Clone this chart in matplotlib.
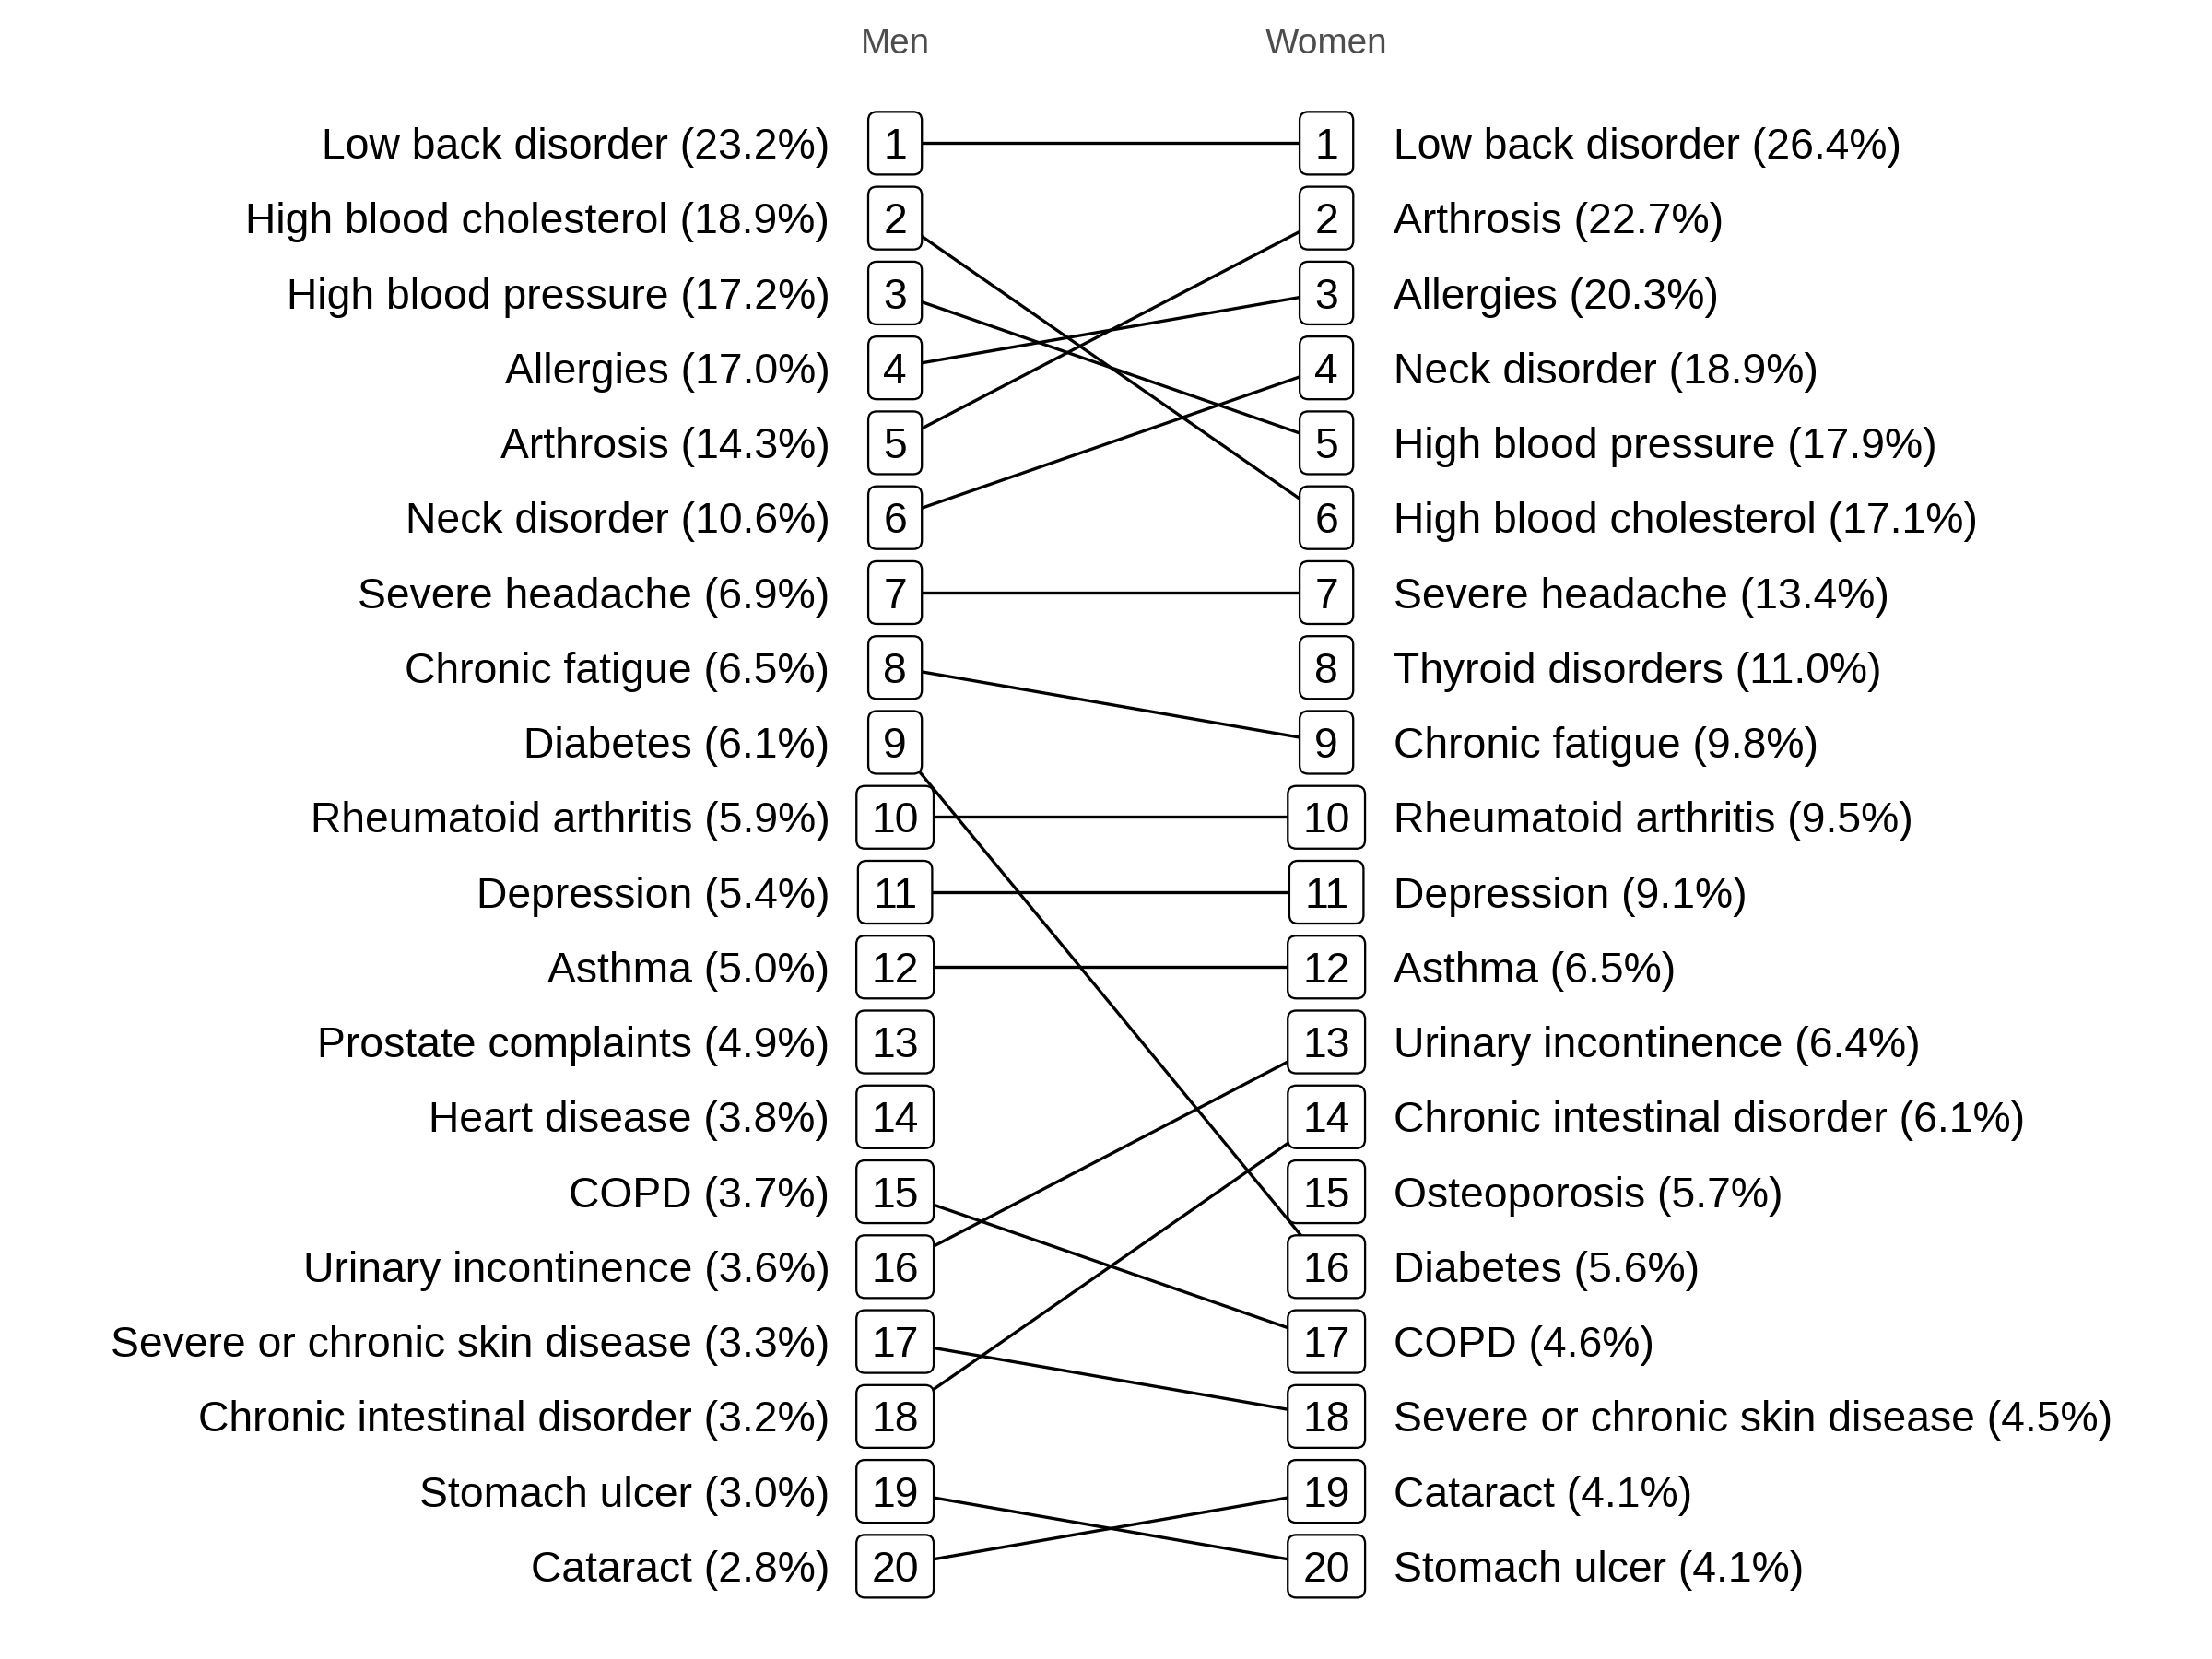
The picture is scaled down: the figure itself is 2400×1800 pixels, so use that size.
import matplotlib.pyplot as plt
from matplotlib.patches import BoxStyle

plt.rcParams['font.family'] = ['Liberation Sans', 'DejaVu Sans']

# Ranked conditions (rank = position in list)
men_names = ['Low back disorder', 'High blood cholesterol', 'High blood pressure',
             'Allergies', 'Arthrosis', 'Neck disorder', 'Severe headache',
             'Chronic fatigue', 'Diabetes', 'Rheumatoid arthritis', 'Depression',
             'Asthma', 'Prostate complaints', 'Heart disease', 'COPD',
             'Urinary incontinence', 'Severe or chronic skin disease',
             'Chronic intestinal disorder', 'Stomach ulcer', 'Cataract']
men_pct = [23.2, 18.9, 17.2, 17.0, 14.3, 10.6, 6.9, 6.5, 6.1, 5.9,
           5.4, 5.0, 4.9, 3.8, 3.7, 3.6, 3.3, 3.2, 3.0, 2.8]

women_names = ['Low back disorder', 'Arthrosis', 'Allergies', 'Neck disorder',
               'High blood pressure', 'High blood cholesterol', 'Severe headache',
               'Thyroid disorders', 'Chronic fatigue', 'Rheumatoid arthritis',
               'Depression', 'Asthma', 'Urinary incontinence',
               'Chronic intestinal disorder', 'Osteoporosis', 'Diabetes', 'COPD',
               'Severe or chronic skin disease', 'Cataract', 'Stomach ulcer']
women_pct = [26.4, 22.7, 20.3, 18.9, 17.9, 17.1, 13.4, 11.0, 9.8, 9.5,
             9.1, 6.5, 6.4, 6.1, 5.7, 5.6, 4.6, 4.5, 4.1, 4.1]

men_rank = {n: i + 1 for i, n in enumerate(men_names)}
women_rank = {n: i + 1 for i, n in enumerate(women_names)}

_round = BoxStyle.Round(pad=0.26, rounding_size=0.2)


def label_box(x0, y0, width, height, mutation_size):
    # a bit wider than tall, and nudged up so digits sit centred
    extra = 0.09 * mutation_size
    return _round(x0 - extra, y0 + 0.1 * mutation_size, width + 2 * extra, height,
                  mutation_size)


fig = plt.figure(figsize=(8, 6), dpi=300)
ax = fig.add_axes([0, 0, 1, 1])
ax.set_xlim(-1.075, 4.053)
ax.set_ylim(21.243, -0.9075)
ax.axis('off')

# connecting lines for conditions in both lists
for name, r in men_rank.items():
    if name in women_rank:
        ax.plot([1, 2], [r, women_rank[name]], color='black', lw=0.8, zorder=1,
                solid_capstyle='butt')

box = dict(boxstyle=label_box, fc='white', ec='black', lw=0.55)
fs = 11.1

for i, (n, p) in enumerate(zip(men_names, men_pct)):
    r = i + 1
    ax.text(1, r, str(r), ha='center', va='center_baseline', fontsize=fs, bbox=box, zorder=3)
    ax.annotate(f'{n} ({p:.1f}%)', (1, r), xytext=(-17, 0), textcoords='offset points',
                ha='right', va='center_baseline', fontsize=fs)

for i, (n, p) in enumerate(zip(women_names, women_pct)):
    r = i + 1
    ax.text(2, r, str(r), ha='center', va='center_baseline', fontsize=fs, bbox=box, zorder=3)
    ax.annotate(f'{n} ({p:.1f}%)', (2, r), xytext=(17.5, 0), textcoords='offset points',
                ha='left', va='center_baseline', fontsize=fs)

ax.text(1, -0.366, 'Men', ha='center', va='center_baseline', fontsize=9.3, color='#4d4d4d')
ax.text(2, -0.366, 'Women', ha='center', va='center_baseline', fontsize=9.3, color='#4d4d4d')

fig.savefig('out.png', dpi=300, facecolor='white')
